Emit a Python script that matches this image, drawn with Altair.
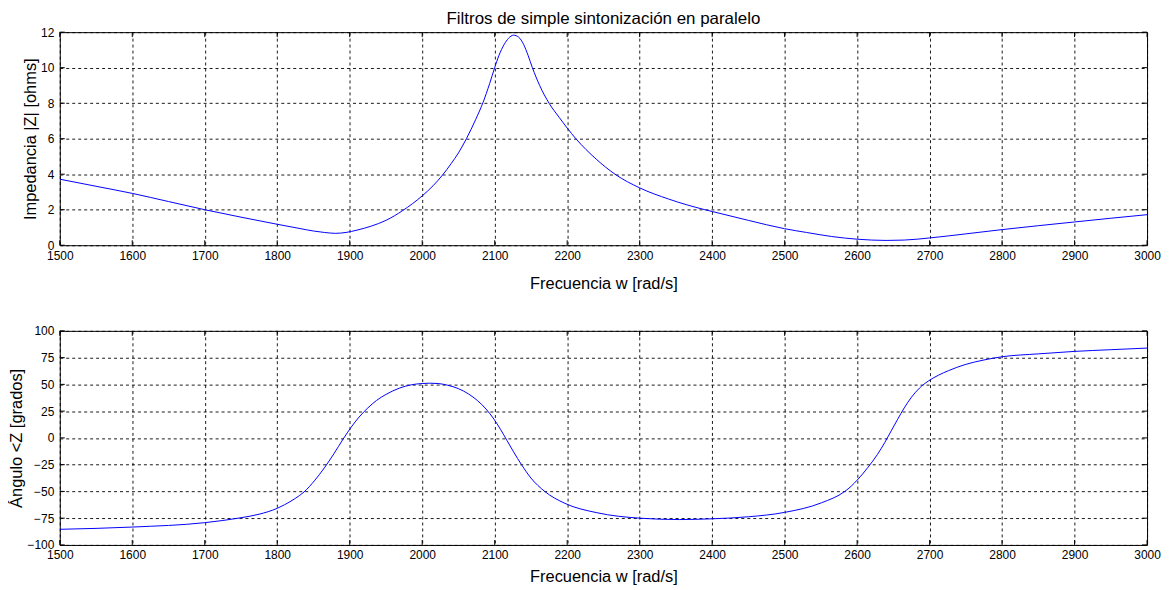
import altair as alt
import pandas as pd

# ---- data ----
w_mag = [1500, 1550, 1600, 1650, 1700, 1750, 1800, 1830, 1850, 1865, 1880, 1895, 1910, 1930,
         1950, 1973, 2000, 2015, 2028, 2040, 2050, 2061, 2074, 2084, 2093, 2100, 2106, 2113, 2119,
         2126, 2133, 2140, 2146, 2152, 2162, 2175, 2189, 2200, 2212, 2240, 2266, 2300, 2340,
         2390, 2400, 2450, 2500, 2530, 2565, 2600, 2620, 2640, 2665, 2700, 2750, 2800, 2850,
         2900, 2950, 3000]
z_mag = [3.72, 3.32, 2.92, 2.46, 2.00, 1.58, 1.18, 0.95, 0.80, 0.72, 0.67, 0.72, 0.85, 1.08,
         1.40, 1.95, 2.78, 3.35, 3.95, 4.60, 5.20, 6.00, 7.10, 8.05, 9.10, 10.0, 10.7, 11.3, 11.65,
         11.83, 11.72, 11.3, 10.7, 10.0, 9.0, 8.0, 7.2, 6.6, 6.0, 4.85, 4.0, 3.23, 2.6,
         2.0, 1.90, 1.40, 0.93, 0.72, 0.49, 0.34, 0.29, 0.27, 0.29, 0.41, 0.64, 0.88, 1.10,
         1.31, 1.52, 1.72]

w_ang = [1500, 1600, 1700, 1750, 1775, 1800, 1810, 1825, 1837, 1852, 1865, 1878, 1891, 1902,
         1913, 1925, 1937, 1950, 1969, 1985, 2000, 2010, 2022, 2035, 2050, 2064, 2076, 2088,
         2099, 2108, 2117, 2126, 2137, 2150, 2169, 2197, 2241, 2300, 2355, 2400, 2450, 2500,
         2551, 2583, 2592, 2600, 2615, 2628, 2638, 2647, 2656, 2665, 2675, 2686, 2698, 2712,
         2726, 2749, 2775, 2800, 2850, 2900, 2950, 3000]
z_ang = [-85.4, -83.3, -79.2, -74.6, -71.3, -65.8, -62.5, -56.5, -50.5, -39.5, -28.0, -15.0, -1.0, 10.0,
         19.5, 28.0, 35.0, 40.6, 46.6, 49.6, 50.8, 51.1, 50.8, 49.2, 46.0, 41.0, 35.0, 27.0,
         17.5, 8.0, -2.5, -13.0, -25.0, -37.5, -50.0, -61.2, -69.9, -75.0, -76.3, -75.6, -73.7, -69.6,
         -60.6, -50.0, -45.0, -39.5, -27.5, -15.5, -4.5, 6.5, 17.5, 28.0, 38.0, 46.5, 53.0, 58.5,
         62.8, 68.5, 72.8, 75.8, 78.5, 80.8, 82.4, 83.9]

x_ticks = [1500, 1600, 1700, 1800, 1900, 2000, 2100, 2200, 2300, 2400, 2500, 2600, 2700, 2800, 2900, 3000]
y1_ticks = [0, 2, 4, 6, 8, 10, 12]
y2_ticks = [-100, -75, -50, -25, 0, 25, 50, 75, 100]

title_text = "Filtros de simple sintonización en paralelo"
x_title = "Frecuencia w [rad/s]"
y1_title = "Impedancia |Z| [ohms]"
y2_title = "Ángulo <Z [grados]"

W = 1092
H1 = 214
H2 = 215
TICK = 5
FONT = "Liberation Sans"

df_mag = pd.DataFrame({"w": w_mag, "z": z_mag})
df_ang = pd.DataFrame({"w": w_ang, "z": z_ang})
df_xt = pd.DataFrame({"t": x_ticks})
df_y1t = pd.DataFrame({"t": y1_ticks})
df_y2t = pd.DataFrame({"t": y2_ticks})


def panel(df, ydom, yticks, df_yt, ytitle, H, with_title, xtpad):
    xs = alt.Scale(domain=[1500, 3000], nice=False, zero=False)
    ys = alt.Scale(domain=ydom, nice=False, zero=False)
    xax = alt.Axis(values=x_ticks, title=x_title, format="d", titlePadding=xtpad)
    yax = alt.Axis(values=yticks, title=ytitle, format="d")

    line = alt.Chart(df).mark_line(color="#0000FF", strokeWidth=1, interpolate="monotone", clip=True).encode(
        x=alt.X("w:Q", scale=xs, axis=xax),
        y=alt.Y("z:Q", scale=ys, axis=yax),
    )
    xt_bot = alt.Chart(df_xt).mark_rule(color="black", strokeWidth=1).encode(
        x=alt.X("t:Q", scale=xs, axis=xax), y=alt.value(H), y2=alt.value(H - TICK))
    xt_top = alt.Chart(df_xt).mark_rule(color="black", strokeWidth=1).encode(
        x=alt.X("t:Q", scale=xs, axis=xax), y=alt.value(0), y2=alt.value(TICK))
    yt_l = alt.Chart(df_yt).mark_rule(color="black", strokeWidth=1).encode(
        y=alt.Y("t:Q", scale=ys, axis=yax), x=alt.value(0), x2=alt.value(TICK))
    yt_r = alt.Chart(df_yt).mark_rule(color="black", strokeWidth=1).encode(
        y=alt.Y("t:Q", scale=ys, axis=yax), x=alt.value(W - TICK), x2=alt.value(W))

    ch = alt.layer(line, xt_bot, xt_top, yt_l, yt_r).properties(width=W, height=H)
    if with_title:
        ch = ch.properties(title=alt.TitleParams(
            text=title_text, anchor="middle", frame="group", fontSize=17, font=FONT,
            fontWeight="normal", color="black", offset=-2))
    return ch


top = panel(df_mag, [0, 12], y1_ticks, df_y1t, y1_title, H1, True, 14)
bot = panel(df_ang, [-100, 100], y2_ticks, df_y2t, y2_title, H2, False, 8)

chart = alt.vconcat(top, bot, spacing=32).properties(
    padding={"left": 0, "top": 0, "right": 0, "bottom": 0}
).configure_view(
    stroke="black", strokeWidth=1
).configure_axis(
    labelFont=FONT, labelFontSize=12, labelColor="black", labelPadding=5, labelFlush=False,
    titleFont=FONT, titleFontSize=16.5, titleFontWeight="normal", titleColor="black",
    domain=False, ticks=False, grid=True, gridColor="black", gridDash=[3, 3], gridWidth=1,
    gridOpacity=0.9, labelOverlap=False,
).configure_axisY(titlePadding=2, labelPadding=6)

chart.save("out.html", embed_options={"renderer": "svg", "actions": False})
